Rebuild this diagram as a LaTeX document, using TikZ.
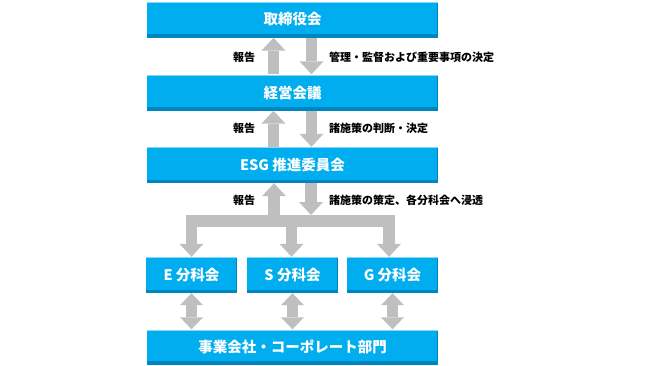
\documentclass[tikz,border=0pt]{standalone}
\usepackage{fontspec}
\setmainfont{Noto Sans CJK JP}
\usepackage{tikz}
\usetikzlibrary{arrows.meta}
\definecolor{esgblue}{HTML}{00AEEF}
\definecolor{esgdark}{HTML}{0086BF}
\definecolor{esglight}{HTML}{8AD8F5}
\definecolor{flowgray}{HTML}{BFBFBF}

\begin{document}
\begin{tikzpicture}[x=1pt,y=-1pt]
    \tikzstyle{unit}=[fill=esgblue, text=white, inner sep=0, minimum height=36pt,
        font=\bfseries\fontsize{14.5}{15}\selectfont,
        path picture={
          \fill[esgdark] ([yshift=3.5pt]path picture bounding box.south west) rectangle (path picture bounding box.south east);
          \fill[esgdark] ([xshift=-1.5pt]path picture bounding box.north east) rectangle (path picture bounding box.south east);
          \fill[esglight] (path picture bounding box.north west) rectangle ([yshift=-1pt]path picture bounding box.north east);}]
    \tikzstyle{flow}=[flowgray, line width=11.5pt, -{Triangle[width=24pt,length=13pt,line width=0pt]}]
    \tikzstyle{both}=[flowgray, line width=11.5pt, {Triangle[width=23pt,length=12pt,line width=0pt]}-{Triangle[width=23pt,length=12pt,line width=0pt]}]
    \tikzstyle{note}=[inner sep=0, font=\bfseries\fontsize{11}{11}\selectfont]
    \useasboundingbox (0,0) rectangle (645,365);
    \fill[white] (0,0) rectangle (645,365);
    % boxes
    \node[unit, minimum width=291pt] (board) at (292.5,19.5) {取締役会};
    \node[unit, minimum width=291pt] (mgmt) at (292.5,92.5) {経営会議};
    \node[unit, minimum width=291pt] (esg) at (292.5,165) {ESG 推進委員会};
    \node[unit, minimum width=91pt] (e) at (191.5,275) {E 分科会};
    \node[unit, minimum width=91pt] (s) at (292.5,275) {S 分科会};
    \node[unit, minimum width=91pt] (g) at (392.5,275) {G 分科会};
    \node[unit, minimum width=291pt, minimum height=35pt] (units) at (292.5,347) {事業会社・コーポレート部門};
    % board <-> management
    \draw[flow] ([xshift=-19pt]mgmt.north) -- ([xshift=-19pt]board.south);
    \draw[flow] ([xshift=19pt]board.south) -- ([xshift=19pt]mgmt.north);
    \node[note] (rep1) at (244,57) {報告};
    \node[note, anchor=west] (dec1) at (329,57) {管理・監督および重要事項の決定};
    % management <-> ESG
    \draw[flow] ([xshift=-19pt]esg.north) -- ([xshift=-19pt]mgmt.south);
    \draw[flow] ([xshift=19pt]mgmt.south) -- ([xshift=19pt]esg.north);
    \node[note] (rep2) at (244,128.5) {報告};
    \node[note, anchor=west] (dec2) at (329,128.5) {諸施策の判断・決定};
    % ESG <-> committees
    \coordinate (hub) at (292.5,221);
    \coordinate (barl) at (185.5,221);
    \coordinate (barr) at (394.75,221);
    \draw[flowgray, line width=12pt] (barl) -- (barr);
    \draw[flow] ([xshift=-18.5pt]esg.south |- hub) -- ([xshift=-18.5pt]esg.south);
    \draw[flow] ([xshift=18.5pt]esg.south) -- ([xshift=18.5pt,yshift=6pt]hub);
    \draw[flow] (e.north |- hub) -- (e.north);
    \draw[flow] ([xshift=-1pt]s.north |- hub) -- ([xshift=-1pt]s.north);
    \draw[flow] ([xshift=-3.5pt]g.north |- hub) -- ([xshift=-3.5pt]g.north);
    \node[note] (rep3) at (244,200) {報告};
    \node[note, anchor=west] (dec3) at (329,200) {諸施策の策定、各分科会へ浸透};
    % committees <-> business units
    \draw[both] (e.south) -- (e.south |- units.north);
    \draw[both] (s.south) -- (s.south |- units.north);
    \draw[both] (g.south) -- (g.south |- units.north);
\end{tikzpicture}
\end{document}
